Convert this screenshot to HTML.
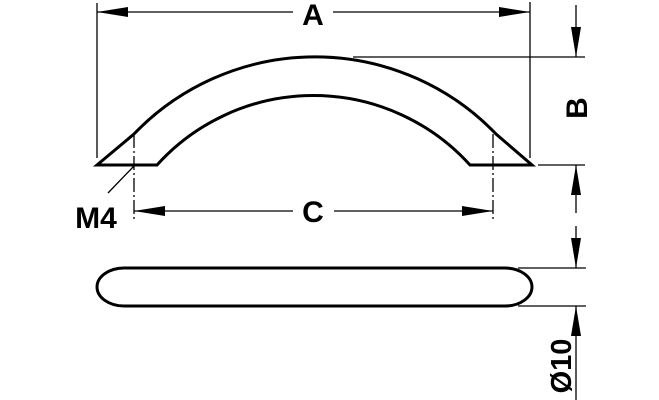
<!DOCTYPE html>
<html><head><style>body{margin:0;background:#fff}svg{display:block}text{font-family:"Liberation Sans",sans-serif;font-weight:bold;fill:#000}</style></head>
<body>
<svg width="659" height="400" viewBox="0 0 659 400" xmlns="http://www.w3.org/2000/svg">
<g stroke="#000" fill="none">
<path d="M97,165 L134,134 A251,251 0 0 1 496,134 L532,165 L470,165 A211,211 0 0 0 157,165 Z" stroke-width="3" stroke-linejoin="miter"/>
<path d="M124,268 L505,268 A27,19 0 0 1 505,306 L124,306 A27,19 0 0 1 124,268 Z" stroke-width="3"/>
<line x1="97" y1="3" x2="97" y2="158" stroke-width="1.3"/>
<line x1="530" y1="2" x2="530" y2="158" stroke-width="1.3"/>
<line x1="353" y1="57" x2="585" y2="57" stroke-width="1.3"/>
<line x1="538" y1="165" x2="585" y2="165" stroke-width="1.3"/>
<line x1="518" y1="268" x2="586" y2="268" stroke-width="1.3"/>
<line x1="518" y1="306" x2="586" y2="306" stroke-width="1.3"/>
<line x1="134" y1="134" x2="134" y2="220" stroke-width="1.3" stroke-dasharray="14,3,2,3"/>
<line x1="493" y1="134" x2="493" y2="220" stroke-width="1.3" stroke-dasharray="14,3,2,3"/>
<line x1="108" y1="193" x2="134" y2="166" stroke-width="1.3"/>
<line x1="97" y1="12" x2="293" y2="12" stroke-width="1.3"/>
<line x1="333" y1="12" x2="530" y2="12" stroke-width="1.3"/>
<line x1="134" y1="211" x2="293" y2="211" stroke-width="1.3"/>
<line x1="334" y1="211" x2="493" y2="211" stroke-width="1.3"/>
<line x1="576" y1="5" x2="576" y2="57" stroke-width="1.3"/>
<line x1="576" y1="165" x2="576" y2="213" stroke-width="1.3"/>
<line x1="576" y1="226" x2="576" y2="268" stroke-width="1.3"/>
<line x1="576" y1="306" x2="576" y2="400" stroke-width="1.3"/>
</g>
<g fill="#000">
<polygon points="97,12 128,7 128,17"/>
<polygon points="530,12 499,7 499,17"/>
<polygon points="134,211 165,206 165,216"/>
<polygon points="493,211 462,206 462,216"/>
<polygon points="576,57 571,27 581,27"/>
<polygon points="576,165 571,195 581,195"/>
<polygon points="576,268 571,238 581,238"/>
<polygon points="576,306 571,336 581,336"/>
</g>
<text x="313" y="25" font-size="30" text-anchor="middle">A</text>
<text x="313" y="222" font-size="30" text-anchor="middle">C</text>
<text x="96" y="228" font-size="30" text-anchor="middle">M4</text>
<text transform="translate(587,108) rotate(-90)" font-size="30" text-anchor="middle">B</text>
<text transform="translate(571,366) rotate(-90)" font-size="29" text-anchor="middle">Ø10</text>
</svg>
</body></html>
